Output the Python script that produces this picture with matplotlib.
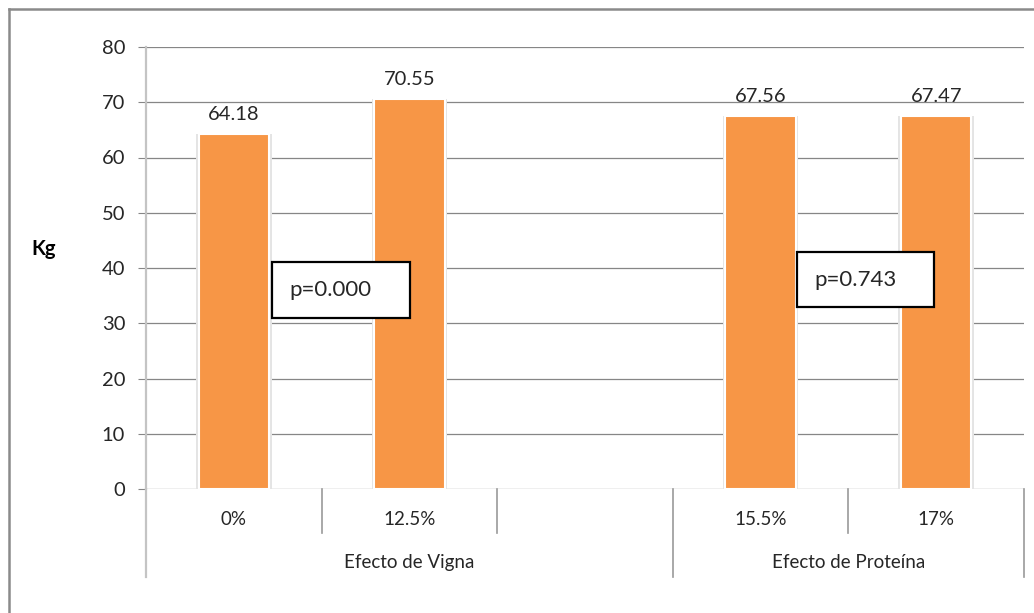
import numpy as np
import matplotlib
matplotlib.use("Agg")
from matplotlib import pyplot as plt
from matplotlib.lines import Line2D
from matplotlib.patches import Rectangle
from matplotlib import transforms

plt.rcParams['font.family'] = ['Lato', 'DejaVu Sans']

# dati: peso medio (Kg) per livello di Vigna e di proteina
categorie = ["0%", "12.5%", "", "15.5%", "17%"]
pesi = [64.18, 70.55, np.nan, 67.56, 67.47]
etichette = ["64.18", "70.55", "", "67.56", "67.47"]
gruppi = ["Efecto de Vigna", "Efecto de Proteína"]
gruppi_span = [(0, 3), (3, 5)]   # slot iniziale e finale di ogni gruppo
p_valori = ["p=0.000", "p=0.743"]
y_ticks = [0, 10, 20, 30, 40, 50, 60, 70, 80]

arancio = "#F79646"
grigio = "#868686"
testo = "#262626"

fig = plt.figure(figsize=(10.34, 6.13), dpi=100)
ax = fig.add_axes([146/1034, 1-489/613, 878/1034, 442/613])

x = np.arange(len(categorie))
mask = ~np.isnan(pesi)
xv = x[mask]
yv = np.array(pesi)[mask]

# ombra leggera attorno alle barre
ax.bar(xv, yv, width=0.43, color="#e4e4e4", zorder=2, linewidth=0)
ax.bar(xv, yv, width=0.40, color=arancio, edgecolor="white", linewidth=1.5, zorder=3)

for xi, yi, lab in zip(x, pesi, etichette):
	if lab:
		ax.annotate(lab, (xi, yi), xytext=(0, 8), textcoords="offset points",
					ha="center", va="bottom", fontsize=14.5, color=testo, zorder=4)

ax.set_xlim(-0.5, len(categorie)-0.5)
ax.set_ylim(0, 80)
ax.set_yticks(y_ticks)
ax.set_yticklabels([str(t) for t in y_ticks], fontsize=14.5, color=testo)
ax.tick_params(axis="y", length=6, width=0.8, color=grigio, pad=9)
ax.set_xticks([])
ax.grid(axis="y", color=grigio, linewidth=0.9, zorder=1)
ax.set_axisbelow(True)
for s in ["top", "right", "bottom"]:
	ax.spines[s].set_visible(False)
ax.spines["left"].set_color("#c4c4c4")
ax.spines["left"].set_linewidth(1.6)

# asse delle categorie su due livelli
tr = transforms.blended_transform_factory(ax.transData, ax.transAxes)
y1 = -0.0995
y2 = -0.199
for xi, c in zip(x, categorie):
	if c:
		ax.text(xi, -0.07, c, transform=tr, ha="center", va="center", fontsize=13.5, color=testo)
bordi_lunghi = set([a for a, b in gruppi_span] + [gruppi_span[-1][1]])
for b in range(len(categorie)+1):
	xb = b - 0.5
	if b == 0:
		ax.plot([xb, xb], [0, y2], transform=tr, color="#c4c4c4", lw=1.6, clip_on=False)
	elif b in bordi_lunghi:
		ax.plot([xb, xb], [0, y2], transform=tr, color="#999999", lw=1.2, clip_on=False)
	else:
		ax.plot([xb, xb], [0, y1], transform=tr, color="#999999", lw=1.2, clip_on=False)
for g, (a, b) in zip(gruppi, gruppi_span):
	ax.text((a+b-1)/2, -0.1674, g, transform=tr, ha="center", va="center", fontsize=13.5, color=testo)

# riquadri con i p-value
box_pos = [(0.2175, 30.95, 0.786, 10.1), (3.207, 32.9, 0.78, 10.0)]
for (bx, by, bw, bh), p in zip(box_pos, p_valori):
	ax.add_patch(Rectangle((bx, by), bw, bh, facecolor="white", edgecolor="black",
						   linewidth=1.6, zorder=5, clip_on=False))
	ax.text(bx + 0.1, by + bh/2, p, ha="left", va="center", fontsize=16, color=testo, zorder=6)

fig.text(44/1034, 1-249/613, "Kg", ha="center", va="center", fontsize=14.5, fontweight="bold", color="black")

# cornice del grafico
fig.add_artist(Line2D([9/1034, 9/1034], [0, 1-9/613], color="#8a8a8a", lw=1.8))
fig.add_artist(Line2D([9/1034, 1], [1-9/613, 1-9/613], color="#8a8a8a", lw=1.8))

fig.savefig("out.png", dpi=100)
